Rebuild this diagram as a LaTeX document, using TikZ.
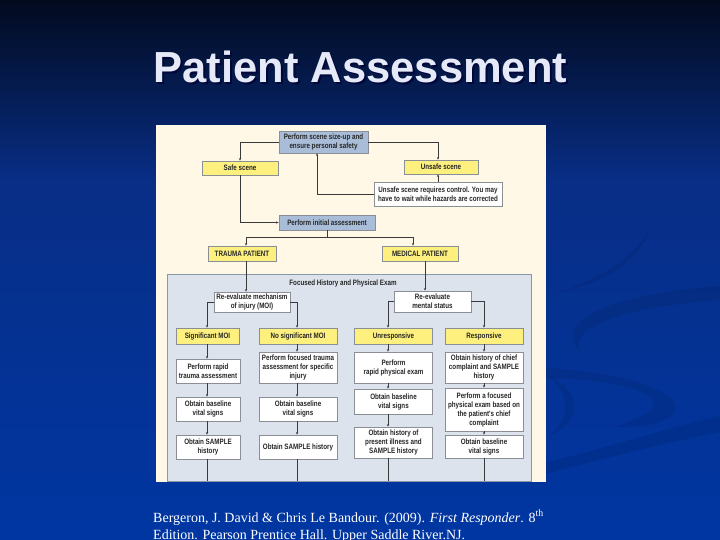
\documentclass[tikz,border=0pt]{standalone}
\usepackage{fontspec}
\setmainfont{Liberation Serif}
\newfontfamily\titlefont{Liberation Sans}
\newfontfamily\boxfont[FakeStretch=0.8]{Liberation Sans}
\usetikzlibrary{arrows.meta,calc}
\definecolor{bgtop}{HTML}{020A1E}
\definecolor{bgmid}{HTML}{082E86}
\definecolor{bgbot}{HTML}{0036A2}
\definecolor{cream}{HTML}{FFF8E6}
\definecolor{innerbg}{HTML}{DCE3EC}
\definecolor{innerln}{HTML}{8C97A6}
\definecolor{yfill}{HTML}{FDF07E}
\definecolor{bfill}{HTML}{A9BDD8}
\definecolor{boxln}{HTML}{8A8F96}
\definecolor{conn}{HTML}{3A3A3A}
\definecolor{titlecol}{HTML}{E6EAF8}
\tikzset{
  box/.style={draw=boxln, line width=0.6pt, inner sep=0pt, align=center,
    font=\boxfont\bfseries\fontsize{7.8}{9}\selectfont, text=black!85},
  ybx/.style={box, fill=yfill},
  bbx/.style={box, fill=bfill},
  wbx/.style={box, fill=white},
  arr/.style={draw=conn, line width=0.6pt, -{Stealth[length=2.6pt,width=2.2pt]}},
  ln/.style={draw=conn, line width=0.6pt},
  swoosh/.style={fill=black, opacity=0.08}
}
\begin{document}
\begin{tikzpicture}[x=1pt,y=-1pt]
\useasboundingbox (0,0) rectangle (720,540);
\clip (0,0) rectangle (720,540);
% background
\shade[top color=bgtop, bottom color=bgmid] (0,0) rectangle (720,181);
\shade[top color=bgmid, bottom color=bgbot] (0,180) rectangle (720,540);
% swooshes
\fill[swoosh] (650,228) .. controls (635,268) and (600,282) .. (556,294)
   .. controls (598,278) and (632,262) .. (650,228) -- cycle;
\fill[swoosh] (720,286) .. controls (640,292) and (548,312) .. (580,352)
   .. controls (568,322) and (640,306) .. (720,300) -- cycle;
\fill[swoosh] (545,368) .. controls (630,372) and (700,398) .. (668,418)
   .. controls (650,428) and (630,428) .. (615,426)
   .. controls (640,420) and (680,402) .. (630,388)
   .. controls (600,380) and (570,378) .. (545,378) -- cycle;
\fill[swoosh] (548,376) .. controls (585,392) and (580,425) .. (548,436)
   .. controls (570,420) and (572,395) .. (548,376) -- cycle;
\fill[swoosh] (720,416) -- (720,432) .. controls (650,446) and (590,462) .. (546,474)
   -- (546,462) .. controls (600,450) and (660,430) .. (720,416) -- cycle;
% title
\node[font=\titlefont\bfseries\fontsize{43.5}{50}\selectfont, text=black!80!blue, opacity=0.7, anchor=base] (titleshadow) at (362.5,85) {Patient Assessment};
\node[font=\titlefont\bfseries\fontsize{43.5}{50}\selectfont, text=titlecol, anchor=base] (title) at (360.5,83) {Patient Assessment};
% panel
\fill[cream] (156,125) rectangle (546,482);
\draw[innerln, fill=innerbg, line width=0.6pt] (167,274) rectangle (531,481);
\node[font=\boxfont\bfseries\fontsize{7.8}{9}\selectfont, text=black!85] (fhpe) at (343,283) {Focused History and Physical Exam};
% top boxes
\node[bbx, minimum width=89pt, minimum height=22pt] (sizeup) at (323.5,142) {Perform scene size-up and\\ensure personal safety};
\node[ybx, minimum width=76pt, minimum height=14pt] (safe) at (240,168) {Safe scene};
\node[ybx, minimum width=74pt, minimum height=14pt] (unsafe) at (441,167) {Unsafe scene};
\node[wbx, minimum width=128pt, minimum height=24pt] (control) at (438,194) {Unsafe scene requires control. You may\\have to wait while hazards are corrected};
\node[bbx, minimum width=96pt, minimum height=15pt] (initial) at (327,222.5) {Perform initial assessment};
\node[ybx, minimum width=68pt, minimum height=15pt] (trauma) at (242,253.5) {TRAUMA PATIENT};
\node[ybx, minimum width=76pt, minimum height=15pt] (medical) at (420,253.5) {MEDICAL PATIENT};
% focused section
\node[wbx, minimum width=76pt, minimum height=20pt] (moi) at (252,302) {Re-evaluate mechanism\\of injury (MOI)};
\node[wbx, minimum width=77pt, minimum height=21pt] (mental) at (432.5,301.5) {Re-evaluate\\mental status};
\node[ybx, minimum width=63pt, minimum height=16pt] (sig) at (207.5,336) {Significant MOI};
\node[ybx, minimum width=78pt, minimum height=16pt] (nosig) at (298,336) {No significant MOI};
\node[ybx, minimum width=78pt, minimum height=16pt] (unresp) at (393.5,336) {Unresponsive};
\node[ybx, minimum width=78pt, minimum height=16pt] (resp) at (484,336) {Responsive};
% column 1
\node[wbx, minimum width=64pt, minimum height=24pt] (c1a) at (208,371) {Perform rapid\\trauma assessment};
\node[wbx, minimum width=64pt, minimum height=24pt] (c1b) at (208,409) {Obtain baseline\\vital signs};
\node[wbx, minimum width=64pt, minimum height=24pt] (c1c) at (208,447) {Obtain SAMPLE\\history};
% column 2
\node[wbx, minimum width=78pt, minimum height=31pt] (c2a) at (298,367.5) {Perform focused trauma\\assessment for specific\\injury};
\node[wbx, minimum width=78pt, minimum height=24pt] (c2b) at (298,409) {Obtain baseline\\vital signs};
\node[wbx, minimum width=78pt, minimum height=24pt] (c2c) at (298,447) {Obtain SAMPLE history};
% column 3
\node[wbx, minimum width=78pt, minimum height=31pt] (c3a) at (393.5,367.5) {Perform\\rapid physical exam};
\node[wbx, minimum width=78pt, minimum height=25pt] (c3b) at (393.5,401.5) {Obtain baseline\\vital signs};
\node[wbx, minimum width=78pt, minimum height=31pt] (c3c) at (393.5,442.5) {Obtain history of\\present illness and\\SAMPLE history};
% column 4
\node[wbx, minimum width=78pt, minimum height=31pt] (c4a) at (484,367.5) {Obtain history of chief\\complaint and SAMPLE\\history};
\node[wbx, minimum width=78pt, minimum height=43pt] (c4b) at (484,409.5) {Perform a focused\\physical exam based on\\the patient's chief\\complaint};
\node[wbx, minimum width=78pt, minimum height=23pt] (c4c) at (484,446.5) {Obtain baseline\\vital signs};
% helper coordinates
\coordinate (retx) at (317,0);
\coordinate (bar) at (0,237);
\coordinate (tx) at (246,0);
\coordinate (mx) at (413,0);
\coordinate (mx2) at (425,0);
\coordinate (k1) at (207,0);
\coordinate (k2) at (297,0);
\coordinate (k3) at (388,0);
\coordinate (k4) at (484,0);
\coordinate (bot) at (0,481);
% connectors, top
\draw[arr] (sizeup.west) -| (safe.north);
\draw[arr] (sizeup.east) -| (control.north |- unsafe.north);
\draw[arr] (control.north) -- (control.north |- unsafe.south);
\draw[arr] (control.west) -| (retx |- sizeup.south);
\draw[arr] (safe.south) |- (initial.west);
\draw[ln] (initial.south) -- (initial.south |- bar);
\draw[ln] (tx |- bar) -- (mx |- bar);
\draw[arr] (tx |- bar) -- (tx |- trauma.north);
\draw[arr] (mx |- bar) -- (mx |- medical.north);
\draw[arr] (tx |- trauma.south) -- (tx |- moi.north);
\draw[arr] (mx2 |- medical.south) -- (mx2 |- mental.north);
% branches
\draw[arr] (moi.west) -| (k1 |- sig.north);
\draw[arr] (moi.east) -| (k2 |- nosig.north);
\draw[arr] (mental.west) -| (k3 |- unresp.north);
\draw[arr] (mental.east) -| (k4 |- resp.north);
% columns
\draw[arr] (k1 |- sig.south) -- (k1 |- c1a.north);
\draw[arr] (k1 |- c1a.south) -- (k1 |- c1b.north);
\draw[arr] (k1 |- c1b.south) -- (k1 |- c1c.north);
\draw[ln] (k1 |- c1c.south) -- (k1 |- bot);
\draw[arr] (k2 |- nosig.south) -- (k2 |- c2a.north);
\draw[arr] (k2 |- c2a.south) -- (k2 |- c2b.north);
\draw[arr] (k2 |- c2b.south) -- (k2 |- c2c.north);
\draw[ln] (k2 |- c2c.south) -- (k2 |- bot);
\draw[arr] (k3 |- unresp.south) -- (k3 |- c3a.north);
\draw[arr] (k3 |- c3a.south) -- (k3 |- c3b.north);
\draw[arr] (k3 |- c3b.south) -- (k3 |- c3c.north);
\draw[ln] (k3 |- c3c.south) -- (k3 |- bot);
\draw[arr] (k4 |- resp.south) -- (k4 |- c4a.north);
\draw[arr] (k4 |- c4a.south) -- (k4 |- c4b.north);
\draw[arr] (k4 |- c4b.south) -- (k4 |- c4c.north);
\draw[ln] (k4 |- c4c.south) -- (k4 |- bot);
% citation
\node[anchor=base west, inner sep=0pt, text=white, font=\fontsize{14}{17}\selectfont] (cite1) at (153,522) {Bergeron, J. David \& Chris Le Bandour. (2009). \textit{First Responder}. 8\textsuperscript{th}};
\node[anchor=base west, inner sep=0pt, text=white, font=\fontsize{14}{17}\selectfont] (cite2) at (153,539) {Edition. Pearson Prentice Hall. Upper Saddle River.NJ.};
\end{tikzpicture}
\end{document}
